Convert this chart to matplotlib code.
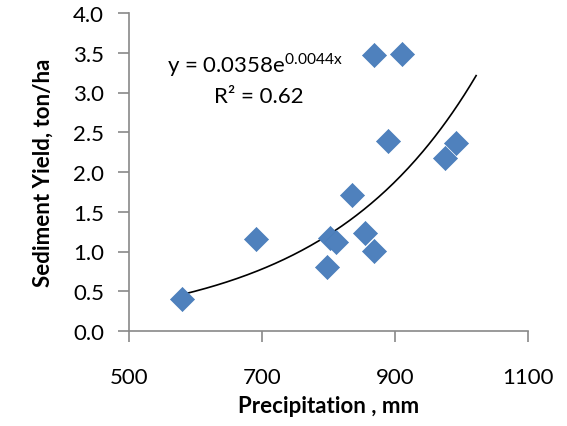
import matplotlib.pyplot as plt
import numpy as np

# Annual precipitation (mm) vs sediment yield (ton/ha)
precip = [580, 691, 798, 802, 811, 836, 855, 868, 868, 910, 890, 975, 991]
sediment = [0.40, 1.16, 0.81, 1.17, 1.12, 1.71, 1.23, 1.01, 3.47, 3.48, 2.39, 2.18, 2.37]

# Exponential trend line coefficients
coef_a = 0.0358
coef_b = 0.0044
r_squared = 0.62

plt.rcParams['font.family'] = ['Lato', 'DejaVu Sans']

fig = plt.figure(figsize=(5.67, 4.27), dpi=100)
ax = fig.add_axes([129 / 567, 1 - 332 / 427, (528 - 129) / 567, (332 - 14) / 427])

ax.scatter(precip, sediment, marker='D', s=150, color='#4F81BD',
           edgecolors='#4A7EBB', linewidths=0.5, zorder=3)

xs = np.linspace(min(precip), 1022, 200)
ax.plot(xs, coef_a * np.exp(coef_b * xs), color='black', lw=1.2, zorder=2)

ax.text(0.095, 0.84, r'y = 0.0358e$^{\mathregular{0.0044x}}$', transform=ax.transAxes,
        fontsize=16, ha='left', va='center')
ax.text(0.325, 0.738, 'R² = %.2f' % r_squared, transform=ax.transAxes,
        fontsize=16, ha='center', va='center')

ax.set_xlim(500, 1100)
ax.set_ylim(0, 4.0)
ax.set_xticks([500, 700, 900, 1100])
ax.set_yticks(np.arange(0, 4.01, 0.5))
ax.yaxis.set_major_formatter(plt.FormatStrFormatter('%.1f'))

for side in ['top', 'right']:
    ax.spines[side].set_visible(False)
for side in ['left', 'bottom']:
    ax.spines[side].set_color('#898989')
    ax.spines[side].set_linewidth(1.2)
ax.tick_params(direction='out', length=8, width=1.2, color='#898989',
               labelsize=16, pad=10)
ax.tick_params(axis='x', pad=18)

ax.set_xlabel('Precipitation , mm', fontsize=16, fontweight='bold', labelpad=6)
ax.set_ylabel('Sediment Yield, ton/ha', fontsize=16, fontweight='bold', labelpad=14)

fig.savefig('out.png', dpi=100)
